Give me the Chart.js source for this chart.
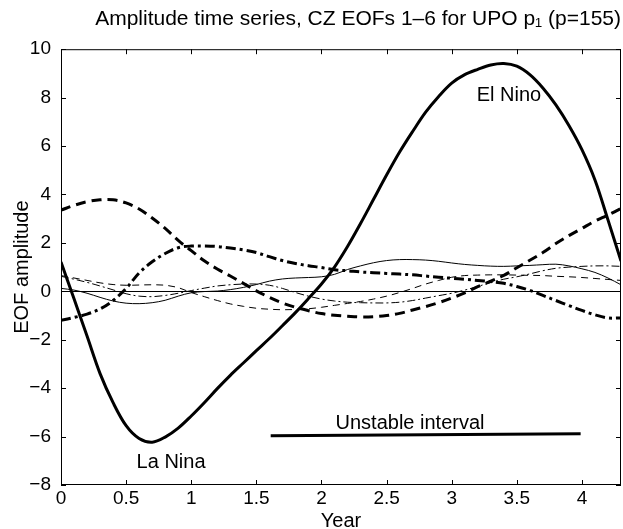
<!DOCTYPE html>
<html>
<head>
<meta charset="utf-8">
<script src="https://cdn.jsdelivr.net/npm/chart.js@4.4.1/dist/chart.umd.min.js"></script>
<style>
  html, body { margin: 0; padding: 0; background: #fff; }
  #wrap { width: 623px; height: 529px; }
</style>
</head>
<body>
<div id="wrap"><canvas id="eofChart"></canvas></div>
<script>
// Tijdas in jaren
const years = [0, 0.1, 0.2, 0.3, 0.4, 0.5, 0.6, 0.7, 0.8, 0.9, 1, 1.1, 1.2, 1.3, 1.4, 1.5, 1.6, 1.7, 1.8, 1.9, 2, 2.1,
               2.2, 2.3, 2.4, 2.5, 2.6, 2.7, 2.8, 2.9, 3, 3.1, 3.2, 3.3, 3.4, 3.5, 3.6, 3.7, 3.8, 3.9, 4, 4.1, 4.2, 4.3];

// EOF amplitudes
const eof1 = [1.21, -0.31, -1.85, -3.4, -4.6, -5.55, -6.08, -6.23, -6.02, -5.65, -5.15, -4.6, -4.02, -3.47, -2.96,
              -2.45, -1.95, -1.42, -0.88, -0.3, 0.3, 1.0, 1.85, 2.8, 3.8, 4.8, 5.75, 6.6, 7.4, 8.05, 8.6, 8.95,
              9.17, 9.35, 9.41, 9.3, 8.95, 8.4, 7.7, 6.85, 5.85, 4.6, 2.95, 1.25];
const eof2 = [3.35, 3.55, 3.7, 3.78, 3.78, 3.65, 3.4, 3.03, 2.6, 2.1, 1.68, 1.26, 0.92, 0.63, 0.33, 0.02, -0.25,
              -0.48, -0.66, -0.8, -0.92, -0.99, -1.03, -1.06, -1.05, -1.0, -0.91, -0.77, -0.63, -0.47, -0.28,
              -0.06, 0.19, 0.42, 0.66, 0.97, 1.28, 1.6, 1.97, 2.3, 2.6, 2.9, 3.15, 3.42];
const eof3 = [-1.2, -1.08, -0.94, -0.73, -0.38, 0.12, 0.76, 1.22, 1.56, 1.8, 1.87, 1.87, 1.85, 1.79, 1.71, 1.6,
              1.43, 1.27, 1.15, 1.06, 0.98, 0.89, 0.85, 0.8, 0.77, 0.74, 0.71, 0.68, 0.63, 0.58, 0.54, 0.5, 0.45,
              0.4, 0.33, 0.2, 0.04, -0.17, -0.38, -0.59, -0.79, -0.97, -1.1, -1.1];
const eof4 = [0.12, 0.05, -0.08, -0.25, -0.4, -0.49, -0.51, -0.47, -0.37, -0.2, -0.06, -0.01, 0.01, 0.07, 0.16,
              0.28, 0.42, 0.51, 0.55, 0.57, 0.6, 0.7, 0.9, 1.05, 1.18, 1.27, 1.31, 1.31, 1.29, 1.24, 1.17, 1.11,
              1.07, 1.04, 1.03, 1.05, 1.07, 1.1, 1.12, 1.05, 0.93, 0.78, 0.55, 0.27];
const eof5 = [0.65, 0.55, 0.45, 0.35, 0.28, 0.25, 0.26, 0.27, 0.25, 0.15, -0.05, -0.22, -0.38, -0.52, -0.62, -0.7,
              -0.74, -0.76, -0.75, -0.72, -0.66, -0.58, -0.5, -0.42, -0.32, -0.2, -0.05, 0.12, 0.3, 0.45, 0.58,
              0.65, 0.67, 0.68, 0.68, 0.67, 0.66, 0.65, 0.62, 0.6, 0.57, 0.53, 0.49, 0.45];
const eof6 = [0.62, 0.5, 0.37, 0.22, 0.06, -0.1, -0.2, -0.22, -0.17, -0.08, 0.03, 0.13, 0.22, 0.27, 0.3, 0.3,
              0.25, 0.12, -0.05, -0.2, -0.32, -0.4, -0.45, -0.47, -0.48, -0.48, -0.45, -0.38, -0.28, -0.18,
              -0.08, 0.05, 0.2, 0.36, 0.5, 0.6, 0.72, 0.85, 0.95, 1.0, 1.03, 1.05, 1.05, 1.03];

// Instabiel interval (begin en eind)
const unstableYears = [1.61, 3.99];
const unstableLevel = [-5.97, -5.88];

// Tekstlabels in de grafiek
const noteText = ['El Nino', 'La Nina', 'Unstable interval'];
const noteYear = [3.44, 0.845, 2.68];
const noteValue = [8.1, -7.07, -5.45];

const FONT = '"Liberation Sans", Arial, Helvetica, sans-serif';

function toPoints(xs, ys) {
    return xs.map((x, i) => ({ x: x, y: ys[i] }));
}

function lineSet(label, values, width, dash) {
    return {
        label: label,
        data: toPoints(years, values),
        borderColor: '#000',
        borderWidth: width,
        borderDash: dash,
        pointRadius: 0,
        tension: 0.35,
        fill: false
    };
}

// Kader rond de grafiek met naar binnen gerichte streepjes, plus tekstlabels
const frameTicks = {
    id: 'frameTicks',
    afterDraw(chart) {
        const { ctx, chartArea: a, scales: { x, y } } = chart;
        ctx.save();
        ctx.strokeStyle = '#000';
        ctx.lineWidth = 1;
        ctx.strokeRect(a.left + 0.5, a.top + 0.5, a.right - a.left - 1, a.bottom - a.top - 1);
        ctx.beginPath();
        x.ticks.forEach(t => {
            const px = Math.round(x.getPixelForValue(t.value)) + 0.5;
            ctx.moveTo(px, a.bottom);
            ctx.lineTo(px, a.bottom - 5);
            ctx.moveTo(px, a.top);
            ctx.lineTo(px, a.top + 5);
        });
        y.ticks.forEach(t => {
            const py = Math.round(y.getPixelForValue(t.value)) + 0.5;
            ctx.moveTo(a.left, py);
            ctx.lineTo(a.left + 5, py);
            ctx.moveTo(a.right, py);
            ctx.lineTo(a.right - 5, py);
        });
        ctx.stroke();

        ctx.fillStyle = '#000';
        ctx.font = '20px ' + FONT;
        ctx.textAlign = 'center';
        ctx.textBaseline = 'middle';
        noteText.forEach((txt, i) => {
            ctx.fillText(txt, x.getPixelForValue(noteYear[i]), y.getPixelForValue(noteValue[i]));
        });
        ctx.restore();
    }
};

const ctx = document.getElementById('eofChart').getContext('2d');

const eofChart = new Chart(ctx, {
    type: 'line',
    data: {
        datasets: [
            lineSet('EOF 1', eof1, 3, []),
            lineSet('EOF 2', eof2, 3, [10, 6]),
            lineSet('EOF 3', eof3, 3, [10, 4, 3, 4]),
            lineSet('EOF 4', eof4, 1, []),
            lineSet('EOF 5', eof5, 1, [7, 5]),
            lineSet('EOF 6', eof6, 1, [8, 3, 2, 3]),
            {
                label: 'Unstable interval',
                data: toPoints(unstableYears, unstableLevel),
                borderColor: '#000',
                borderWidth: 3,
                pointRadius: 0,
                fill: false
            }
        ]
    },
    options: {
        responsive: true,
        maintainAspectRatio: false,
        animation: false,
        layout: { padding: { left: 0, right: 2, top: 0, bottom: 0 } },
        scales: {
            x: {
                type: 'linear',
                min: 0,
                max: 4.3,
                afterFit: s => { s.height = 44; },
                ticks: {
                    stepSize: 0.5,
                    includeBounds: false,
                    color: '#000',
                    padding: 2,
                    maxRotation: 0,
                    font: { family: FONT, size: 19 },
                    callback: v => String(v)
                },
                grid: { display: false, drawTicks: false },
                border: { display: false },
                title: {
                    display: true,
                    text: 'Year',
                    color: '#000',
                    padding: { top: 0, bottom: 0 },
                    font: { family: FONT, size: 20, lineHeight: 0.8 }
                }
            },
            y: {
                min: -8,
                max: 10,
                afterFit: s => { s.width = 61; },
                ticks: {
                    stepSize: 2,
                    color: '#000',
                    padding: 10,
                    font: { family: FONT, size: 19 },
                    callback: v => String(v).replace('-', '\u2212')
                },
                grid: {
                    drawTicks: false,
                    lineWidth: 1,
                    color: c => (c.tick && c.tick.value === 0 ? '#000' : 'rgba(0,0,0,0)')
                },
                border: { display: false },
                title: {
                    display: true,
                    text: 'EOF amplitude',
                    color: '#000',
                    padding: { top: 10, bottom: 0 },
                    font: { family: FONT, size: 20 }
                }
            }
        },
        plugins: {
            legend: { display: false },
            tooltip: { enabled: false },
            title: {
                display: true,
                fullSize: false,
                align: 'end',
                text: 'Amplitude time series, CZ EOFs 1\u20136 for UPO p\u2081 (p=155)',
                color: '#000',
                padding: { top: 7, bottom: 17 },
                font: { family: FONT, size: 21, weight: 'normal', lineHeight: 1.2 }
            }
        }
    },
    plugins: [frameTicks]
});
</script>
</body>
</html>
